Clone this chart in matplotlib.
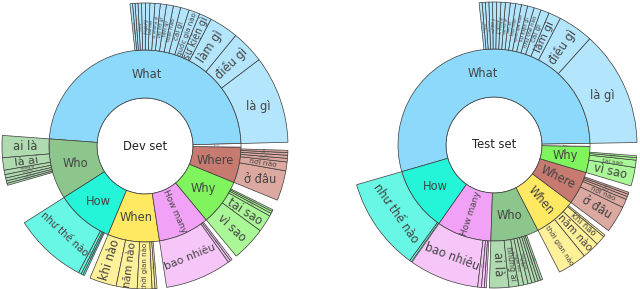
import numpy as np
import matplotlib
matplotlib.use("Agg")
import matplotlib.pyplot as plt
from matplotlib.patches import Wedge, Circle

# question types, share of questions (%), counter-clockwise order
dev_types = ["What", "Who", "How", "When", "How many", "Why", "Where", "Others"]
dev_share = [48.4, 10.2, 9.7, 8.7, 8.6, 7.8, 6.0, 0.6]

dev_what_words = ["là gì", "điều gì", "làm gì", "sự kiện gì", "quốc gia nào", "cái gì",
                  "loại nào", "tên gì", "vai trò gì", "là những gì", "thế nào", "ý nghĩa gì",
                  "mục đích gì", "bằng gì", "yếu tố nào", "thứ gì", "gồm những gì"]
dev_what_share = [9.9, 3.75, 3.3, 1.4, 1.25, 0.97, 0.83, 0.78, 0.69, 0.61, 0.56, 0.5,
                  0.44, 0.39, 0.33, 0.28, 0.28]
dev_who_words = ["ai là", "là ai", "những ai", "người nào", "ai đã", "nhân vật nào", "ai"]
dev_who_share = [2.5, 1.4, 0.5, 0.39, 0.33, 0.28, 0.22]
dev_how_words = ["như thế nào", "ra sao", "bằng cách nào", "thế nào"]
dev_how_share = [8.3, 0.33, 0.22, 0.17]
dev_when_words = ["khi nào", "năm nào", "thời gian nào", "lúc nào", "bao giờ"]
dev_when_share = [3.05, 2.36, 1.67, 0.33, 0.22]
dev_howmany_words = ["bao nhiêu", "mấy", "bao lâu"]
dev_howmany_share = [7.5, 0.28, 0.22]
dev_why_words = ["vì sao", "tại sao", "vì lý do gì", "do đâu", "tại vì sao"]
dev_why_share = [3.9, 1.95, 0.33, 0.25, 0.19]
dev_where_words = ["ở đâu", "nơi nào", "ở nơi nào", "chỗ nào", "vùng nào", "đâu"]
dev_where_share = [3.4, 1.0, 0.4, 0.35, 0.3, 0.25]

test_types = ["What", "How", "How many", "Who", "When", "Where", "Why", "Others"]
test_share = [54.2, 10.8, 9.2, 8.1, 7.2, 5.6, 4.4, 0.5]

test_what_words = ["là gì", "điều gì", "làm gì", "cái gì", "như thế nào", "sự kiện gì",
                   "quốc gia nào", "loại nào", "tên gì", "vai trò gì", "là những gì",
                   "ý nghĩa gì", "mục đích gì", "bằng gì", "yếu tố nào", "thứ gì", "gồm những gì"]
test_what_share = [13.05, 4.0, 1.4, 0.95, 0.8, 0.75, 0.7, 0.65, 0.6, 0.55, 0.5, 0.48,
                   0.45, 0.42, 0.4, 0.36, 0.33]
test_how_words = ["như thế nào", "ra sao"]
test_how_share = [10.5, 0.22]
test_howmany_words = ["bao nhiêu", "mấy", "bao lâu", "bao xa"]
test_howmany_share = [7.9, 0.42, 0.33, 0.22]
test_who_words = ["ai là", "những ai", "người nào", "ai đã", "nhân vật nào", "ai",
                  "tác giả nào", "vị vua nào", "tên ai"]
test_who_share = [2.2, 1.1, 0.56, 0.5, 0.44, 0.39, 0.33, 0.28, 0.25]
test_when_words = ["thời gian nào", "năm nào", "khi nào", "bao giờ"]
test_when_share = [3.3, 1.95, 1.1, 0.22]
test_where_words = ["ở đâu", "nơi nào", "chỗ nào", "đâu", "vùng nào"]
test_where_share = [3.05, 0.97, 0.33, 0.28, 0.22]
test_why_words = ["vì sao", "tại sao", "do đâu", "vì lý do gì"]
test_why_share = [2.1, 0.83, 0.28, 0.22]

dev_children = {
    "What": (dev_what_words, dev_what_share),
    "Who": (dev_who_words, dev_who_share),
    "How": (dev_how_words, dev_how_share),
    "When": (dev_when_words, dev_when_share),
    "How many": (dev_howmany_words, dev_howmany_share),
    "Why": (dev_why_words, dev_why_share),
    "Where": (dev_where_words, dev_where_share),
}
test_children = {
    "What": (test_what_words, test_what_share),
    "How": (test_how_words, test_how_share),
    "How many": (test_howmany_words, test_howmany_share),
    "Who": (test_who_words, test_who_share),
    "When": (test_when_words, test_when_share),
    "Where": (test_where_words, test_where_share),
    "Why": (test_why_words, test_why_share),
}

# inner colour, outer (lighter) colour
colors = {
    "What": ("#8dd9fb", "#b3e6fc"),
    "Who": ("#8cc68c", "#b0dbb0"),
    "How": ("#24f5d8", "#68f7e4"),
    "When": ("#ffe862", "#fff09a"),
    "How many": ("#f2a2f6", "#f7c6f9"),
    "Why": ("#80f45c", "#aaf797"),
    "Where": ("#c77b70", "#dca9a1"),
    "Others": ("#ffffff", "#ffffff"),
}

EDGE = "#3c3c3c"
TXT = "#444444"
R0, R1, R2 = 48, 96, 143
FS_MAX = 8.3

fig = plt.figure(figsize=(6.4, 2.89), dpi=100)
ax = fig.add_axes([0, 0, 1, 1])
ax.set_xlim(0, 640)
ax.set_ylim(0, 289)
ax.axis("off")
renderer = fig.canvas.get_renderer()


def text_size(label):
    t = ax.text(0, 0, label, fontsize=10)
    bb = t.get_window_extent(renderer=renderer)
    t.remove()
    return bb.width / 10.0, bb.height * 0.72 / 10.0


def fits(w, h, rot, a1, a2, ri, ro, rm, mid):
    # rectangle centred at (rm, mid), sampled along its border
    th = np.radians(rot)
    u = np.array([np.cos(th), np.sin(th)])
    v = np.array([-np.sin(th), np.cos(th)])
    c = rm * np.array([np.cos(np.radians(mid)), np.sin(np.radians(mid))])
    s = np.linspace(-0.5, 0.5, 7)
    pts = []
    for k in s:
        pts.append(c + k * w * u + 0.5 * h * v)
        pts.append(c + k * w * u - 0.5 * h * v)
        pts.append(c + 0.5 * w * u + k * h * v)
        pts.append(c - 0.5 * w * u + k * h * v)
    pts = np.array(pts)
    r = np.hypot(pts[:, 0], pts[:, 1])
    ang = (np.degrees(np.arctan2(pts[:, 1], pts[:, 0])) - a1) % 360
    pad = 0.6
    span = a2 - a1
    ok_r = (r >= ri + pad) & (r <= ro - pad)
    d1 = np.radians(ang) * r
    d2 = np.radians(span - ang) * r
    ok_a = (ang <= span) & (d1 >= pad) & (d2 >= pad)
    return bool(np.all(ok_r & ok_a))


def best_size(w1, h1, rot, a1, a2, ri, ro, rm, mid):
    lo, hi = 0.0, FS_MAX
    if fits(w1 * hi, h1 * hi, rot, a1, a2, ri, ro, rm, mid):
        return hi
    for _ in range(14):
        m = 0.5 * (lo + hi)
        if fits(w1 * m, h1 * m, rot, a1, a2, ri, ro, rm, mid):
            lo = m
        else:
            hi = m
    return lo


def upright(rot):
    rot = (rot + 180) % 360 - 180
    if rot > 90:
        rot -= 180
    elif rot <= -90:
        rot += 180
    return rot


def slice_label(cx, cy, a1, a2, ri, ro, label):
    mid = 0.5 * (a1 + a2)
    rm = 0.5 * (ri + ro)
    w1, h1 = text_size(label)
    fs_h = best_size(w1, h1, 0, a1, a2, ri, ro, rm, mid)
    if fs_h >= FS_MAX:
        fs, rot = fs_h, 0
    else:
        opts = [(fs_h, 0)]
        for rot in (upright(mid), upright(mid - 90)):
            opts.append((best_size(w1, h1, rot, a1, a2, ri, ro, rm, mid), rot))
        fs, rot = max(opts, key=lambda o: o[0])
    fs = max(fs, 1.2)
    x = cx + rm * np.cos(np.radians(mid))
    y = cy + rm * np.sin(np.radians(mid))
    ax.text(x, y, label, fontsize=fs, rotation=rot, rotation_mode="anchor",
            ha="center", va="center", color=TXT)


def draw_slice(cx, cy, a1, a2, ri, ro, color, label):
    ax.add_patch(Wedge((cx, cy), ro, a1, a2, width=ro - ri, facecolor=color,
                       edgecolor=EDGE, linewidth=0.5))
    slice_label(cx, cy, a1, a2, ri, ro, label)


def sunburst(cx, cy, title, types, shares, children, start):
    ax.add_patch(Circle((cx, cy), R0, facecolor="white", edgecolor=EDGE, linewidth=0.5))
    ax.text(cx, cy, title, ha="center", va="center", fontsize=8.3, color="#222222")
    a = start
    for t, s in zip(types, shares):
        span = s * 3.6
        draw_slice(cx, cy, a, a + span, R0, R1, colors[t][0], t)
        if t in children:
            words, vals = children[t]
            b = a
            for wd, v in zip(words, vals):
                draw_slice(cx, cy, b, b + v * 3.6, R1, R2, colors[t][1], wd)
                b += v * 3.6
        a += span


sunburst(145, 143, "Dev set", dev_types, dev_share, dev_children, 1.5)
sunburst(494, 144, "Test set", test_types, test_share, test_children, 1.0)

fig.savefig("out.png", dpi=100)
